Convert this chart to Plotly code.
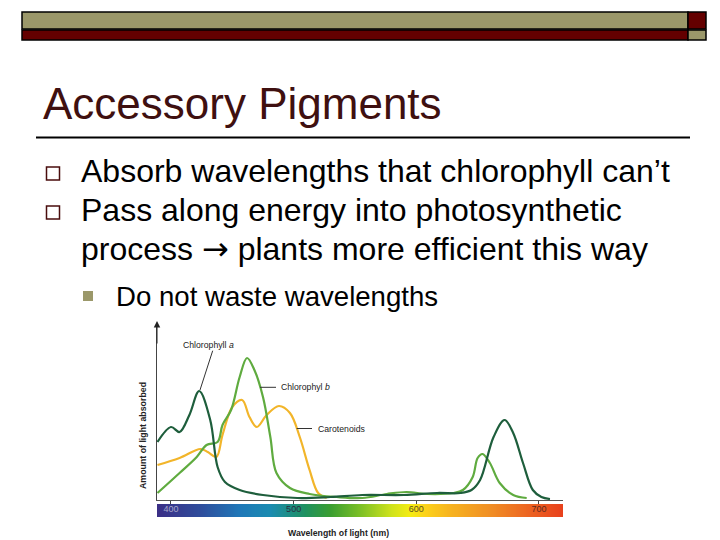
import plotly.graph_objects as go

# Absorption spectra (wavelength in nm, absorbance in arbitrary units)
chl_a_nm = [389, 400, 407, 415, 423, 432, 438, 444, 456, 475, 503, 530, 556, 590, 617, 636, 645, 652, 663, 672, 679, 687, 695, 702, 709]
chl_a_abs = [58, 73, 68, 85, 109, 80, 33, 18, 10, 5, 2, 3, 5, 5, 7, 7, 10, 20, 63, 80, 67, 37, 10, 3, 1]

chl_b_nm = [389, 407, 421, 429, 438, 442, 449, 456, 462, 468, 475, 481, 486, 497, 513, 535, 556, 576, 592, 609, 630, 638, 646, 650, 654, 660, 668, 679, 690]
chl_b_abs = [7, 27, 43, 55, 58, 75, 90, 123, 142, 130, 103, 63, 27, 12, 6, 3, 2, 6, 8, 6, 7, 10, 23, 42, 46, 37, 17, 5, 2]

car_nm = [389, 407, 424, 430, 437, 442, 450, 458, 464, 470, 478, 488, 497, 505, 513, 520, 527]
car_abs = [35, 42, 51, 48, 43, 65, 93, 100, 83, 73, 85, 94, 87, 63, 30, 7, 2]

# visible spectrum strip under the axis
spectrum_nm = [389, 424, 456, 481, 509, 530, 554, 579, 595, 607, 627, 660, 693, 720]
spectrum_col = ["#3b2f86", "#2f4d9c", "#1f78b8", "#1a8bb0", "#1f9160", "#3a9e30", "#7cc025",
                "#cfe21c", "#f5ec12", "#fcd21a", "#f7b41f", "#f08e25", "#ec6222", "#e8401c"]

tick_nm = [400, 500, 600, 700]
tick_text = ["400", "500", "600", "700"]
tick_col = ["#a9a9cc", "#2a2a40", "#5a4a20", "#5a2a20"]

# the page puts the figure 8px in from the top left corner
OFF = 8
W, H = 720 - OFF, 540 - OFF
FONT = "Liberation Sans, Arial, sans-serif"


def px(x):
    return (x - OFF) / W


def py(y):
    return 1 - (y - OFF) / H


fig = go.Figure()

lo, hi = spectrum_nm[0], spectrum_nm[-1]
scale = [[(v - lo) / (hi - lo), c] for v, c in zip(spectrum_nm, spectrum_col)]
fig.add_trace(go.Heatmap(x=spectrum_nm, y=[0, 1], z=[spectrum_nm, spectrum_nm],
                         colorscale=scale, zmin=lo, zmax=hi, zsmooth="best",
                         showscale=False, hoverinfo="skip", xaxis="x2", yaxis="y2"))

fig.add_trace(go.Scatter(x=car_nm, y=car_abs, mode="lines", name="Carotenoids",
                         line=dict(color="#f2b52a", width=2.2, shape="spline")))
fig.add_trace(go.Scatter(x=chl_b_nm, y=chl_b_abs, mode="lines", name="Chlorophyll b",
                         line=dict(color="#5fab3f", width=2.2, shape="spline")))
fig.add_trace(go.Scatter(x=chl_a_nm, y=chl_a_abs, mode="lines", name="Chlorophyll a",
                         line=dict(color="#1e5e3c", width=2.2, shape="spline")))

xdom = [px(157), px(563)]
xrange = [388.6, 719.6]

shapes = [
    # header bars
    dict(x0=22, x1=688, y0=12, y1=29, fillcolor="#9b986a"),
    dict(x0=22, x1=688, y0=30, y1=40, fillcolor="#640000"),
    dict(x0=688, x1=706, y0=12, y1=29, fillcolor="#640000"),
    dict(x0=688, x1=706, y0=30, y1=40, fillcolor="#9b986a"),
]
shapes = [dict(type="rect", xref="paper", yref="paper", x0=px(s["x0"]), x1=px(s["x1"]),
               y0=py(s["y1"]), y1=py(s["y0"]), fillcolor=s["fillcolor"],
               line=dict(color="black", width=1.5)) for s in shapes]
# title rule
shapes.append(dict(type="line", xref="paper", yref="paper", x0=px(36), x1=px(690),
                   y0=py(137.5), y1=py(137.5), line=dict(color="black", width=2)))
# hollow bullets
for y0 in [167, 206]:
    shapes.append(dict(type="rect", xref="paper", yref="paper", x0=px(46.5), x1=px(59.5),
                       y0=py(y0 + 13), y1=py(y0), line=dict(color="#4a0d0d", width=1.5)))
# sub bullet
shapes.append(dict(type="rect", xref="paper", yref="paper", x0=px(83), x1=px(93),
                   y0=py(301), y1=py(291), fillcolor="#9b986a", line=dict(width=0)))
# leader lines of the curve labels
for x0, y0, x1, y1 in [(212.7, 350.7, 200, 390), (260, 387.3, 276, 387.3), (296.7, 428.5, 312, 428.5)]:
    shapes.append(dict(type="line", xref="paper", yref="paper", x0=px(x0), y0=py(y0),
                       x1=px(x1), y1=py(y1), line=dict(color="#333", width=1)))

ann = []


def text(t, x, y, size, color="black", anchor="left", **kw):
    ann.append(dict(text=t, x=px(x), y=py(y), xref="paper", yref="paper", showarrow=False,
                    xanchor=anchor, yanchor="middle", font=dict(family=FONT, size=size, color=color), **kw))


arrow = "<span style='font-family:DejaVu Sans'>→</span>"
text("Accessory Pigments", 41, 103, 44, color="#3f1010")
text("Absorb wavelengths that chlorophyll can’t", 79, 171, 32)
text("Pass along energy into photosynthetic", 79, 210, 32)
text("process " + arrow + " plants more efficient this way", 79, 248.5, 32)
text("Do not waste wavelengths", 114, 296, 27.6)

text("Chlorophyll <i>a</i>", 180.5, 345, 8.7, color="#222")
text("Chlorophyl <i>b</i>", 279, 387.3, 8.7, color="#222")
text("Carotenoids", 315.5, 429, 8.7, color="#222")
text("<b>Amount of light absorbed</b>", 143, 436, 8.8, color="#222", anchor="center", textangle=-90)
text("<b>Wavelength of light (nm)</b>", 338, 533, 8.7, color="#222", anchor="center")

# arrow head on top of the y axis
ann.append(dict(text="", x=px(157), y=py(321), ax=0, ay=24, xref="paper", yref="paper",
                showarrow=True, arrowhead=2, arrowsize=1.3,
                arrowwidth=1, arrowcolor="#222", standoff=0))

tick_labels = ["<span style='color:%s'>%s</span>" % (c, t) for t, c in zip(tick_text, tick_col)]

fig.update_layout(
    width=W, height=H, margin=dict(l=0, r=0, t=0, b=0),
    paper_bgcolor="white", plot_bgcolor="rgba(0,0,0,0)", showlegend=False,
    xaxis=dict(domain=xdom, range=xrange, anchor="y", showline=True, linecolor="#555", linewidth=1,
               ticks="outside", ticklen=3, tickcolor="#444", tickvals=tick_nm, showticklabels=False,
               showgrid=False, zeroline=False),
    yaxis=dict(domain=[py(500), py(325)], range=[0, 175], anchor="x", showline=True, linecolor="#444",
               linewidth=1, showticklabels=False, ticks="", showgrid=False, zeroline=False),
    xaxis2=dict(domain=xdom, range=xrange, anchor="y2", tickvals=tick_nm, ticktext=tick_labels,
                ticklabelposition="inside", ticks="", showline=False, showgrid=False, zeroline=False,
                tickfont=dict(family=FONT, size=9, color="#333")),
    yaxis2=dict(domain=[py(517), py(504)], range=[0, 1], anchor="x2", visible=False),
    shapes=shapes, annotations=ann,
)

fig.write_html("out.html")
